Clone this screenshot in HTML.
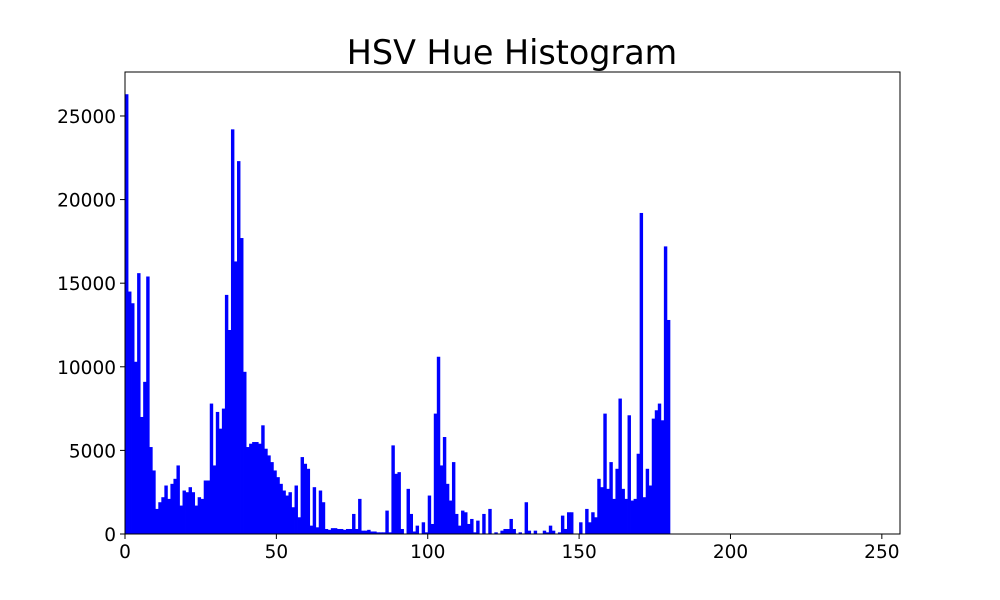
<!DOCTYPE html>
<html><head><meta charset="utf-8"><style>
body{margin:0;background:#fff;}
svg{display:block;font-family:"DejaVu Sans","Liberation Sans",sans-serif;}
</style></head><body>
<svg id="chart" width="1000" height="600">
<text x="512" y="64" text-anchor="middle" font-size="33.4">HSV Hue Histogram</text>
<g id="bars"></g>
<g id="axes"></g>
</svg>
<script>
const counts = [26300,14500,13800,10300,15600,7000,9100,15400,5200,3800,1500,1900,2200,2900,2100,3000,3300,4100,1700,2600,2500,2800,2500,1700,2200,2100,3200,3200,7800,4100,7300,6300,7500,14300,12200,24200,16300,22300,17700,9700,5200,5400,5500,5500,5400,6500,5100,4700,4300,3800,3400,3000,2600,2300,2500,1600,2900,1000,4600,4200,3900,500,2800,400,2600,1900,300,250,350,350,300,300,250,300,300,1200,300,2100,200,200,250,150,150,100,100,100,1400,100,5300,3600,3700,300,0,2700,1200,150,500,0,700,100,2300,600,7200,10600,4100,5800,3000,2000,4300,1200,500,1400,1300,600,900,100,800,0,1200,0,1500,0,100,0,200,300,300,900,300,0,100,0,1900,200,0,200,0,0,200,100,500,200,0,100,1100,300,1300,1300,0,0,700,0,1500,700,1300,1000,3300,2800,7200,2700,4300,2100,3900,8100,2700,2100,7100,2000,2100,4800,19200,2200,3900,2900,6900,7400,7800,6800,17200,12800];
const xTicks = [0,50,100,150,200,250];
const yTicks = [0,5000,10000,15000,20000,25000];
const X0=125,X1=900,Y0=534,Y1=72,XMAX=256,YMAX=27630;
const sx=v=>X0+v*(X1-X0)/XMAX;
const sy=v=>Y0-v*(Y0-Y1)/YMAX;
const NS='http://www.w3.org/2000/svg';
const bars=document.getElementById('bars');
counts.forEach((c,i)=>{
  const r=document.createElementNS(NS,'rect');
  r.setAttribute('x',sx(i));r.setAttribute('width',sx(i+1)-sx(i)+0.4);
  r.setAttribute('y',sy(c));r.setAttribute('height',Y0-sy(c));
  r.setAttribute('fill','#0000ff');
  
  
  bars.appendChild(r);
});
const axes=document.getElementById('axes');
const frame=document.createElementNS(NS,'rect');
frame.setAttribute('x',X0);frame.setAttribute('y',Y1);frame.setAttribute('width',X1-X0);frame.setAttribute('height',Y0-Y1);
frame.setAttribute('fill','none');frame.setAttribute('stroke','#000');frame.setAttribute('stroke-width','1');


axes.appendChild(frame);
xTicks.forEach(t=>{
  const l=document.createElementNS(NS,'line');
  l.setAttribute('x1',sx(t));l.setAttribute('x2',sx(t));l.setAttribute('y1',Y0);l.setAttribute('y2',Y0+5);l.setAttribute('stroke','#000');
  
  
  axes.appendChild(l);
  const tx=document.createElementNS(NS,'text');
  tx.setAttribute('x',sx(t));tx.setAttribute('y',Y0+24);tx.setAttribute('text-anchor','middle');tx.setAttribute('font-size','18.5');
  tx.textContent=t;
  
  
  axes.appendChild(tx);
});
yTicks.forEach(t=>{
  const l=document.createElementNS(NS,'line');
  l.setAttribute('x1',X0-5);l.setAttribute('x2',X0);l.setAttribute('y1',sy(t));l.setAttribute('y2',sy(t));l.setAttribute('stroke','#000');
  
  
  axes.appendChild(l);
  const tx=document.createElementNS(NS,'text');
  tx.setAttribute('x',X0-9);tx.setAttribute('y',sy(t)+7);tx.setAttribute('text-anchor','end');tx.setAttribute('font-size','18.5');
  tx.textContent=t;
  
  
  axes.appendChild(tx);
});
</script>
</body></html>
